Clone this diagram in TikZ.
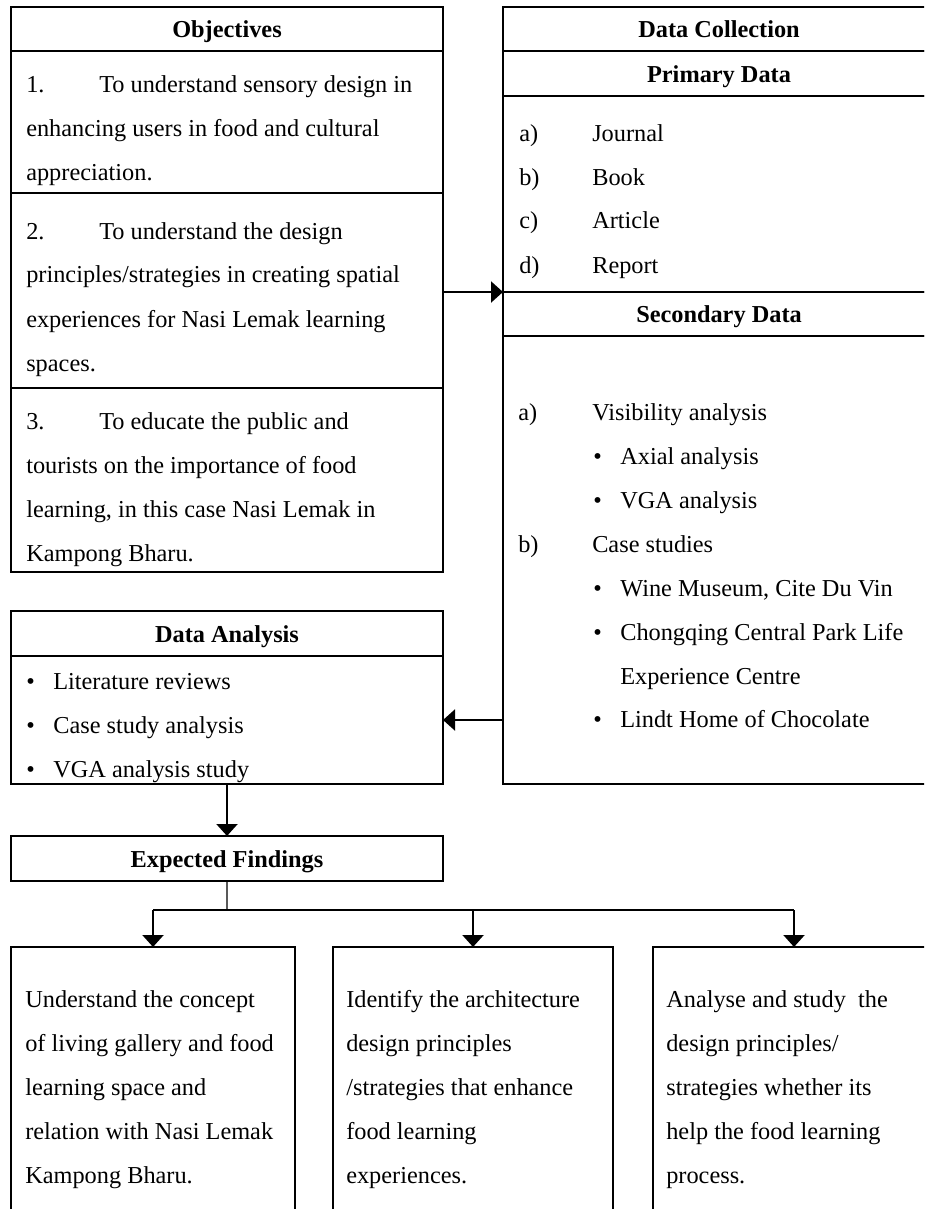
\documentclass[tikz,border=0pt]{standalone}
\usepackage{fontspec}
\setmainfont{Liberation Serif}
\usetikzlibrary{arrows.meta,positioning}

\begin{document}
\begin{tikzpicture}[x=0.25mm, y=-0.25mm,
  box/.style={draw, line width=0.7mm, inner sep=0pt, outer sep=0pt, minimum width=108mm},
  head/.style={box, minimum height=11mm, font=\fontsize{17.3pt}{20pt}\selectfont\bfseries, text height=12.5pt, text depth=0pt},
  txt/.style={anchor=base west, inner sep=0pt, font=\fontsize{17.3pt}{20pt}\selectfont},
  arr/.style={-{Triangle[length=3mm, width=5.2mm]}, line width=0.7mm}]
  \useasboundingbox (0,0) rectangle (924,1209);
  \clip (0,0) rectangle (924,1209);

  %--- Objectives ---
  \node[head, anchor=north west] (objhead) at (11,7) {Objectives};
  \node[box, minimum height=35.5mm, below=0mm of objhead] (obj1) {};
  \node[box, minimum height=48.75mm, below=0mm of obj1] (obj2) {};
  \node[box, minimum height=46mm, below=0mm of obj2] (obj3) {};

  \node[txt] (o1a) at (26,93) {\makebox[18.25mm][l]{1.}To understand sensory design in};
  \node[txt] (o1b) at (26,137) {enhancing users in food and cultural};
  \node[txt] (o1c) at (26,181) {appreciation.};
  \node[txt] (o2a) at (26,239) {\makebox[18.25mm][l]{2.}To understand the design};
  \node[txt] (o2b) at (26,283) {principles/strategies in creating spatial};
  \node[txt] (o2c) at (26,327) {experiences for Nasi Lemak learning};
  \node[txt] (o2d) at (26,371) {spaces.};
  \node[txt] (o3a) at (26,429) {\makebox[18.25mm][l]{3.}To educate the public and};
  \node[txt] (o3b) at (26,473) {tourists on the importance of food};
  \node[txt] (o3c) at (26,517) {learning, in this case Nasi Lemak in};
  \node[txt] (o3d) at (26,561) {Kampong Bharu.};

  %--- Data collection ---
  \node[head, anchor=north west] (dchead) at (503,7) {Data Collection};
  \node[head, minimum height=11.25mm, below=0mm of dchead] (pdhead) {Primary Data};
  \node[box, minimum height=49mm, below=0mm of pdhead] (pdbody) {};
  \node[head, below=0mm of pdbody] (sdhead) {Secondary Data};
  \node[box, minimum height=112mm, below=0mm of sdhead] (sdbody) {};

  % Primary data
  \node[txt] (pda) at (519,142) {\makebox[18.25mm][l]{a)}Journal};
  \node[txt] (pdb) at (519,186) {\makebox[18.25mm][l]{b)}Book};
  \node[txt] (pdc) at (519,229) {\makebox[18.25mm][l]{c)}Article};
  \node[txt] (pdd) at (519,273) {\makebox[18.25mm][l]{d)}Report};

  % Secondary data
  \node[txt] (sda) at (518,420) {\makebox[18.5mm][l]{a)}Visibility analysis};
  \node[txt] (sda1) at (593,464) {\makebox[6.75mm][l]{\textbullet}Axial analysis};
  \node[txt] (sda2) at (593,508) {\makebox[6.75mm][l]{\textbullet}VGA analysis};
  \node[txt] (sdb) at (518,552) {\makebox[18.5mm][l]{b)}Case studies};
  \node[txt] (sdb1) at (593,596) {\makebox[6.75mm][l]{\textbullet}Wine Museum, Cite Du Vin};
  \node[txt] (sdb2) at (593,640) {\makebox[6.75mm][l]{\textbullet}Chongqing Central Park Life};
  \node[txt] (sdb3) at (620,684) {Experience Centre};
  \node[txt] (sdb4) at (593,727) {\makebox[6.75mm][l]{\textbullet}Lindt Home of Chocolate};

  %--- Data analysis ---
  \node[head, minimum height=11.25mm, anchor=north west] (dahead) at (11,611) {Data Analysis};
  \node[box, minimum height=32mm, below=0mm of dahead] (dabody) {};
  \node[txt] (da1) at (26,689) {\makebox[6.75mm][l]{\textbullet}Literature reviews};
  \node[txt] (da2) at (26,733) {\makebox[6.75mm][l]{\textbullet}Case study analysis};
  \node[txt] (da3) at (26,777) {\makebox[6.75mm][l]{\textbullet}VGA analysis study};

  %--- Expected findings ---
  \node[head, minimum height=11.25mm, anchor=north west] (efhead) at (11,836) {Expected Findings};

  \node[box, minimum width=71mm, minimum height=75mm, anchor=north west] (find1) at (11,947) {};
  \node[box, minimum width=70mm, minimum height=75mm, anchor=north west] (find2) at (333,947) {};
  \node[box, minimum width=70.5mm, minimum height=75mm, anchor=north west] (find3) at (653,947) {};

  \node[txt] (f1a) at (25,1007) {Understand the concept};
  \node[txt] (f1b) at (25,1051) {of living gallery and food};
  \node[txt] (f1c) at (25,1095) {learning space and};
  \node[txt] (f1d) at (25,1139) {relation with Nasi Lemak};
  \node[txt] (f1e) at (25,1183) {Kampong Bharu.};

  \node[txt] (f2a) at (346,1007) {Identify the architecture};
  \node[txt] (f2b) at (346,1051) {design principles};
  \node[txt] (f2c) at (346,1095) {/strategies that enhance};
  \node[txt] (f2d) at (346,1139) {food learning};
  \node[txt] (f2e) at (346,1183) {experiences.};

  \node[txt] (f3a) at (666,1007) {Analyse and study\ \ the};
  \node[txt] (f3b) at (666,1051) {design principles/};
  \node[txt] (f3c) at (666,1095) {strategies whether its};
  \node[txt] (f3d) at (666,1139) {help the food learning};
  \node[txt] (f3e) at (666,1183) {process.};

  %--- Connectors ---
  \draw[arr] (obj2.east |- sdhead.north) -- (sdhead.north west);
  \draw[arr] (sdbody.west |- dabody.east) -- (dabody.east);
  \draw[arr] (dabody.south) -- (efhead.north);

  \coordinate (split) at (227,910);
  \draw[line width=0.3mm] (efhead.south) -- (split);
  \draw[line width=0.7mm] (find1.north |- split) -- (find3.north |- split);
  \draw[arr] (find1.north |- split) -- (find1.north);
  \draw[arr] (find2.north |- split) -- (find2.north);
  \draw[arr] (find3.north |- split) -- (find3.north);
\end{tikzpicture}
\end{document}
